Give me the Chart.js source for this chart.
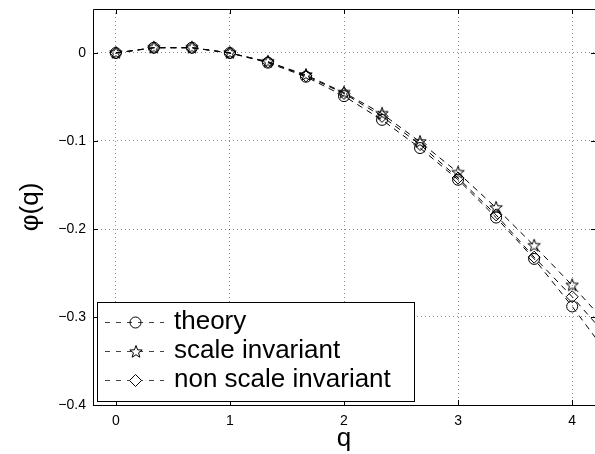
<!DOCTYPE html>
<html>
<head>
<meta charset="utf-8">
<script src="https://cdn.jsdelivr.net/npm/chart.js@4/dist/chart.umd.min.js"></script>
<style>
  html, body { margin: 0; padding: 0; background: #fff; overflow: hidden; }
</style>
</head>
<body>
<canvas id="phi" width="595" height="454"></canvas>
<script>
// q values and the three phi(q) curves
const qValues = [0, 1/3, 2/3, 1, 4/3, 5/3, 2, 7/3, 8/3, 3, 10/3, 11/3, 4, 13/3];
const theory = [0, 0.006, 0.006, 0, -0.011, -0.027, -0.049, -0.076, -0.108, -0.144, -0.187, -0.234, -0.288, -0.346];
const scaleInvariant = [0, 0.006, 0.006, 0, -0.010, -0.025, -0.045, -0.069, -0.101, -0.136, -0.176, -0.219, -0.264, -0.312];
const nonScaleInvariant = [0, 0.006, 0.006, 0, -0.010, -0.026, -0.046, -0.072, -0.104, -0.142, -0.184, -0.232, -0.277, -0.326];
const seriesLabels = ['theory', 'scale invariant', 'non scale invariant'];
const xTicks = [0, 1, 2, 3, 4];
const yTicks = [-0.4, -0.3, -0.2, -0.1, 0];

const FONT = "'Liberation Sans', Arial, Helvetica, sans-serif";

// chart.js 'star' is an asterisk, so build a 5-point outline star
function makeStar(outer, inner) {
  const size = Math.ceil(outer * 2 + 3);
  const c = document.createElement('canvas');
  c.width = size; c.height = size;
  const g = c.getContext('2d');
  const cx = size / 2, cy = size / 2;
  g.beginPath();
  for (let i = 0; i < 10; i++) {
    const r = i % 2 === 0 ? outer : inner;
    const a = -Math.PI / 2 + i * Math.PI / 5;
    const px = cx + r * Math.cos(a), py = cy + r * Math.sin(a);
    if (i === 0) g.moveTo(px, py); else g.lineTo(px, py);
  }
  g.closePath();
  g.strokeStyle = '#000';
  g.lineWidth = 1;
  g.stroke();
  return c;
}
const starImg = makeStar(6.5, 2.7);

const toPoints = (ys) => qValues.map((q, i) => ({ x: q, y: ys[i] }));

const lineDash = [6, 5];
function series(label, ys, style, radius) {
  return {
    label,
    data: toPoints(ys),
    borderColor: '#000',
    borderWidth: 1,
    borderDash: lineDash,
    pointStyle: style,
    pointRadius: radius,
    pointBorderColor: '#000',
    pointBackgroundColor: 'rgba(0,0,0,0)',
    pointBorderWidth: 1,
    tension: 0,
    fill: false
  };
}

// MATLAB-like box with inward ticks; the right edge sits just past the picture
const frame = {
  id: 'frame',
  afterDraw(chart) {
    const { ctx, chartArea: a, scales } = chart;
    const tl = 5;
    ctx.save();
    ctx.strokeStyle = '#000';
    ctx.lineWidth = 1;
    ctx.beginPath();
    ctx.moveTo(a.right + 2, a.top + 0.5); ctx.lineTo(a.left + 0.5, a.top + 0.5);
    ctx.lineTo(a.left + 0.5, a.bottom + 0.5); ctx.lineTo(a.right + 2, a.bottom + 0.5);
    xTicks.forEach(v => {
      const x = Math.round(scales.x.getPixelForValue(v)) + 0.5;
      ctx.moveTo(x, a.bottom); ctx.lineTo(x, a.bottom - tl);
      ctx.moveTo(x, a.top); ctx.lineTo(x, a.top + tl);
    });
    yTicks.forEach(v => {
      const y = Math.round(scales.y.getPixelForValue(v)) + 0.5;
      ctx.moveTo(a.left, y); ctx.lineTo(a.left + tl, y);
      ctx.moveTo(a.right + 1, y); ctx.lineTo(a.right + 1 - tl, y);
    });
    ctx.stroke();
    ctx.restore();
  }
};

// legend box in the lower left, line sample with marker in the middle
const boxLegend = {
  id: 'boxLegend',
  afterDraw(chart) {
    const { ctx } = chart;
    const box = { x: 97, y: 302, w: 317, h: 99 };
    const rows = [322, 351, 380];
    ctx.save();
    ctx.fillStyle = '#fff';
    ctx.fillRect(box.x, box.y, box.w, box.h);
    ctx.strokeStyle = '#000';
    ctx.lineWidth = 1;
    ctx.strokeRect(box.x + 0.5, box.y + 0.5, box.w, box.h);
    chart.data.datasets.forEach((ds, i) => {
      const y = rows[i] + 0.5;
      ctx.strokeStyle = '#444';
      ctx.setLineDash([5, 6]);
      ctx.beginPath();
      ctx.moveTo(105, y); ctx.lineTo(164, y);
      ctx.stroke();
      ctx.setLineDash([]);
      ctx.strokeStyle = '#000';
      const mx = 135.5;
      ctx.beginPath();
      if (ds.pointStyle === 'circle') {
        ctx.arc(mx, y, ds.pointRadius, 0, Math.PI * 2);
        ctx.stroke();
      } else if (ds.pointStyle === 'rectRot') {
        const r = ds.pointRadius;
        ctx.moveTo(mx, y - r); ctx.lineTo(mx + r, y); ctx.lineTo(mx, y + r); ctx.lineTo(mx - r, y);
        ctx.closePath();
        ctx.fillStyle = '#fff'; ctx.fill(); ctx.stroke();
      } else {
        ctx.fillStyle = '#fff';
        ctx.fillRect(mx - 4, y - 4, 8, 8);
        ctx.drawImage(starImg, Math.round(mx - starImg.width / 2), Math.round(y - starImg.height / 2));
      }
      ctx.fillStyle = '#000';
      ctx.font = '26px ' + FONT;
      ctx.textBaseline = 'middle';
      ctx.fillText(ds.label, 174, rows[i]);
    });
    ctx.restore();
  }
};

new Chart(document.getElementById('phi'), {
  type: 'line',
  data: {
    datasets: [
      series(seriesLabels[0], theory, 'circle', 5.5),
      series(seriesLabels[1], scaleInvariant, starImg, 6),
      series(seriesLabels[2], nonScaleInvariant, 'rectRot', 6)
    ]
  },
  options: {
    responsive: false,
    animation: false,
    events: [],
    layout: { autoPadding: false, padding: { left: 0, top: 9, right: 0, bottom: 0 } },
    plugins: {
      legend: { display: false },
      tooltip: { enabled: false }
    },
    scales: {
      x: {
        type: 'linear',
        min: -0.2,
        max: 4.2,
        afterBuildTicks: (scale) => { scale.ticks = xTicks.map(v => ({ value: v })); },
        afterFit: (scale) => {
          scale.height = 49;
          scale.paddingLeft = 0; scale.paddingRight = 0;
        },
        grid: { color: 'rgba(0,0,0,0.45)', drawTicks: false, lineWidth: 1 },
        border: { display: false, dash: [1, 3] },
        ticks: { color: '#000', padding: 8, maxRotation: 0, font: { family: FONT, size: 14 } },
        title: { display: true, text: 'q', color: '#000', padding: { top: 0, bottom: 0 }, font: { family: FONT, size: 26 } }
      },
      y: {
        type: 'linear',
        min: -0.4,
        max: 0.05,
        afterBuildTicks: (scale) => { scale.ticks = yTicks.map(v => ({ value: v })); },
        afterFit: (scale) => {
          scale.width = 93;
          scale.paddingTop = 0; scale.paddingBottom = 0;
        },
        grid: { color: 'rgba(0,0,0,0.45)', drawTicks: false, lineWidth: 1 },
        border: { display: false, dash: [1, 3] },
        ticks: {
          color: '#000',
          padding: 7,
          font: { family: FONT, size: 14 },
          callback: (v) => v === 0 ? '0' : '\u2212' + Math.abs(v).toFixed(1)
        },
        title: { display: true, text: '\u03c6(q)', color: '#000', padding: { top: 15, bottom: 0 }, font: { family: FONT, size: 26 } }
      }
    }
  },
  plugins: [frame, boxLegend]
});
</script>
</body>
</html>
